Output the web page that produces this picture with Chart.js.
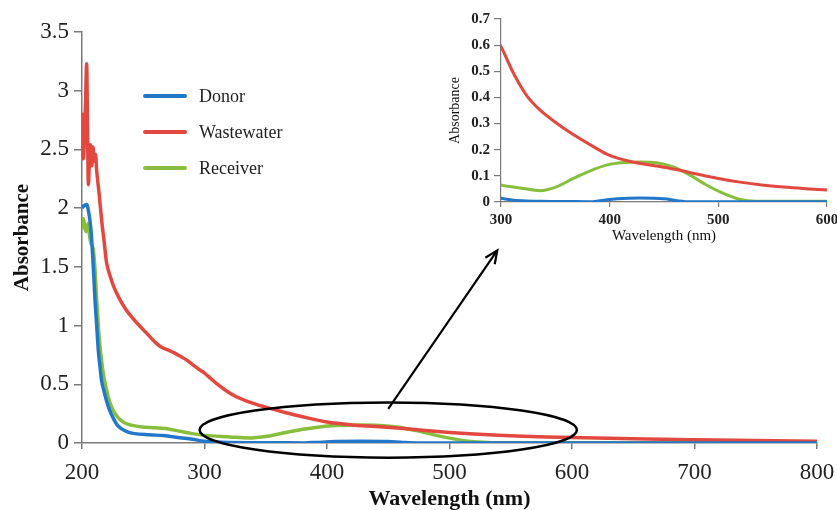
<!DOCTYPE html>
<html>
<head>
<meta charset="utf-8">
<script src="https://cdn.jsdelivr.net/npm/chart.js@4"></script>
<style>
  body { margin: 0; background: #fff; }
  #wrap { position: relative; width: 837px; height: 510px; }
  #mainChart { position: absolute; left: 0; top: 0; }
  #insetChart { position: absolute; left: 430px; top: 0; }
</style>
</head>
<body>
<div id="wrap">
  <canvas id="mainChart" width="837" height="510"></canvas>
  <canvas id="insetChart" width="407" height="260"></canvas>
</div>
<script>
// UV-vis spectra: wavelength (nm) and absorbance per sample
const donorNm = [200, 201.5, 203.8, 205.7, 207, 208, 209.5, 210.6, 212, 213.3, 215, 216, 218, 220, 222.5, 225.6, 229, 232.4, 237, 243, 255, 268, 280, 290, 300, 310, 320, 336, 360, 382, 391, 407, 428, 450, 462, 474, 600, 800];
const donorAbs = [2.0, 2.02, 2.03, 1.95, 1.85, 1.72, 1.45, 1.22, 1.0, 0.79, 0.62, 0.53, 0.44, 0.36, 0.28, 0.21, 0.15, 0.12, 0.095, 0.08, 0.07, 0.062, 0.045, 0.032, 0.015, 0.008, 0.005, 0.003, 0.002, 0.001, 0.005, 0.012, 0.015, 0.012, 0.005, 0.001, 0.001, 0];

const wasteNm = [200, 200.5, 201.2, 202, 203, 203.8, 204.5, 205.2, 206, 207, 208, 209, 210, 211, 212, 214, 216, 218, 220, 223, 226, 230, 235, 240, 245, 250, 255, 260, 265, 270, 275, 280, 285, 290, 295, 300, 305, 310, 316, 324, 335, 350, 365, 385, 400, 420, 440, 460, 480, 500, 520, 540, 560, 580, 600, 650, 700, 750, 800];
const wasteAbs = [2.45, 2.8, 2.42, 2.6, 2.95, 3.23, 2.7, 2.2, 2.38, 2.54, 2.36, 2.52, 2.4, 2.46, 2.32, 2.12, 1.9, 1.72, 1.54, 1.42, 1.33, 1.24, 1.15, 1.08, 1.02, 0.965, 0.91, 0.855, 0.815, 0.793, 0.77, 0.74, 0.71, 0.67, 0.63, 0.595, 0.55, 0.505, 0.458, 0.405, 0.355, 0.305, 0.262, 0.212, 0.178, 0.154, 0.14, 0.125, 0.107, 0.09, 0.076, 0.065, 0.057, 0.051, 0.046, 0.036, 0.028, 0.021, 0.015];

const receiverNm = [200, 201.1, 202.2, 203.3, 205, 206, 207, 209.3, 210.5, 212, 213.3, 214.7, 216, 217.4, 219.5, 221.5, 224, 227, 231, 235, 241, 249, 260, 268, 280, 290, 300, 320.6, 336, 351, 366.6, 382, 397, 412.5, 428, 443, 458.5, 474, 489, 504.6, 520, 535, 600, 700, 800];
const receiverAbs = [1.82, 1.91, 1.85, 1.8, 1.87, 1.78, 1.71, 1.64, 1.5, 1.22, 1.0, 0.82, 0.7, 0.59, 0.48, 0.39, 0.31, 0.25, 0.2, 0.17, 0.15, 0.137, 0.13, 0.123, 0.1, 0.08, 0.065, 0.052, 0.043, 0.058, 0.09, 0.119, 0.141, 0.151, 0.153, 0.15, 0.134, 0.103, 0.065, 0.033, 0.01, 0.003, 0.003, 0.002, 0.001];

const seriesNames = ['Donor', 'Wastewater', 'Receiver'];

// axis ticks
const mainXTicks = [200, 300, 400, 500, 600, 700, 800];
const mainYTicks = [0, 0.5, 1, 1.5, 2, 2.5, 3, 3.5];
const insetXTicks = [300, 400, 500, 600];
const insetYTicks = [0, 0.1, 0.2, 0.3, 0.4, 0.5, 0.6, 0.7];

const colors = ['#2277c8', '#e2483f', '#87be3e'];
const serif = '"Liberation Serif", "Times New Roman", serif';

function toPoints(xs, ys) {
    return xs.map((x, i) => ({ x: x, y: ys[i] }));
}

function makeDatasets(width) {
    const sets = [[donorNm, donorAbs], [wasteNm, wasteAbs], [receiverNm, receiverAbs]];
    return sets.map((s, i) => ({
        label: seriesNames[i],
        data: toPoints(s[0], s[1]),
        borderColor: colors[i],
        backgroundColor: colors[i],
        borderWidth: width,
        pointRadius: 0,
        cubicInterpolationMode: 'monotone',
        fill: false
    }));
}

// legend drawn inside the plot area
const lineLegend = {
    id: 'lineLegend',
    afterDraw(chart, args, opts) {
        const ctx = chart.ctx;
        ctx.save();
        ctx.font = opts.font;
        ctx.textBaseline = 'middle';
        ctx.lineCap = 'round';
        chart.data.datasets.forEach((ds, i) => {
            const y = opts.y + i * opts.gap;
            ctx.strokeStyle = ds.borderColor;
            ctx.lineWidth = 4;
            ctx.beginPath();
            ctx.moveTo(opts.x, y);
            ctx.lineTo(opts.x + opts.len, y);
            ctx.stroke();
            ctx.fillStyle = '#222';
            ctx.fillText(ds.label, opts.textX, y + 1);
        });
        ctx.restore();
    }
};

// ellipse round the visible-region band plus the arrow up to the zoomed view
const callout = {
    id: 'callout',
    afterDatasetsDraw(chart, args, opts) {
        const xs = chart.scales.x, ys = chart.scales.y;
        const ctx = chart.ctx;
        const cx = xs.getPixelForValue(opts.ellipse.x);
        const cy = ys.getPixelForValue(opts.ellipse.y);
        const rx = xs.getPixelForValue(opts.ellipse.x + opts.ellipse.rx) - cx;
        const ry = cy - ys.getPixelForValue(opts.ellipse.y + opts.ellipse.ry);
        ctx.save();
        ctx.strokeStyle = '#000';
        ctx.lineWidth = 2.5;
        ctx.beginPath();
        ctx.ellipse(cx, cy, rx, ry, 0, 0, Math.PI * 2);
        ctx.stroke();

        const x1 = xs.getPixelForValue(opts.arrow.from[0]);
        const y1 = ys.getPixelForValue(opts.arrow.from[1]);
        const x2 = xs.getPixelForValue(opts.arrow.to[0]);
        const y2 = ys.getPixelForValue(opts.arrow.to[1]);
        ctx.lineWidth = 2.2;
        ctx.beginPath();
        ctx.moveTo(x1, y1);
        ctx.lineTo(x2, y2);
        ctx.stroke();
        const ang = Math.atan2(y2 - y1, x2 - x1);
        const head = 14;
        ctx.beginPath();
        ctx.moveTo(x2 - head * Math.cos(ang - 0.42), y2 - head * Math.sin(ang - 0.42));
        ctx.lineTo(x2, y2);
        ctx.lineTo(x2 - head * Math.cos(ang + 0.42), y2 - head * Math.sin(ang + 0.42));
        ctx.stroke();
        ctx.restore();
    }
};

function axis(min, max, ticks, o) {
    return {
        type: 'linear',
        min: min,
        max: max,
        afterBuildTicks: s => { s.ticks = ticks.map(v => ({ value: v })); },
        afterFit: s => {
            if (o.width) s.width = o.width;
            if (o.height) s.height = o.height;
            // edge labels may hang past the plot; layout padding already leaves room
            s.paddingLeft = 0;
            s.paddingRight = 0;
        },
        border: { display: true, color: '#7a7a7a', width: o.borderWidth },
        grid: { drawOnChartArea: false, drawTicks: true, tickLength: o.tickLength, color: '#7a7a7a', lineWidth: o.borderWidth },
        ticks: {
            color: '#222',
            padding: o.tickPad,
            maxRotation: 0,
            autoSkip: false,
            font: { family: serif, size: o.tickSize, weight: o.tickWeight || 'normal' },
            callback: v => String(v)
        },
        title: {
            display: true,
            text: o.title,
            color: '#111',
            padding: o.titlePad,
            font: { family: serif, size: o.titleSize, weight: o.titleWeight || 'normal', lineHeight: 1 }
        }
    };
}

new Chart(document.getElementById('mainChart'), {
    type: 'line',
    data: { datasets: makeDatasets(3.5) },
    options: {
        responsive: false,
        animation: false,
        devicePixelRatio: 1,
        layout: { padding: { left: 0, right: 20, top: 32, bottom: 0 } },
        scales: {
            x: axis(200, 800, mainXTicks, {
                height: 67, tickLength: 6, tickPad: 10, tickSize: 23, borderWidth: 1.5,
                title: 'Wavelength (nm)', titleSize: 22, titleWeight: 'bold', titlePad: { top: 0, bottom: 0 }
            }),
            y: axis(0, 3.5, mainYTicks, {
                width: 82, tickLength: 8, tickPad: 5, tickSize: 23, borderWidth: 1.5,
                title: 'Absorbance', titleSize: 21, titleWeight: 'bold', titlePad: { top: 12, bottom: 0 }
            })
        },
        plugins: {
            legend: { display: false },
            tooltip: { enabled: false },
            lineLegend: { x: 145, y: 96, gap: 36, len: 40, textX: 199, font: '18px ' + serif },
            callout: {
                ellipse: { x: 450, y: 0.11, rx: 154, ry: 0.235 },
                arrow: { from: [450, 0.29], to: [539, 1.64] }
            }
        }
    },
    plugins: [lineLegend, callout]
});

new Chart(document.getElementById('insetChart'), {
    type: 'line',
    data: { datasets: makeDatasets(3) },
    options: {
        responsive: false,
        animation: false,
        devicePixelRatio: 1,
        layout: { padding: { left: 0, right: 10, top: 19, bottom: 0 } },
        scales: {
            x: axis(300, 600, insetXTicks, {
                height: 58, tickLength: 5, tickPad: 4, tickSize: 15, tickWeight: 'bold', borderWidth: 1.2,
                title: 'Wavelength (nm)', titleSize: 15, titlePad: { top: 0, bottom: 16 }
            }),
            y: axis(0, 0.7, insetYTicks, {
                width: 71, tickLength: 7, tickPad: 4, tickSize: 15, tickWeight: 'bold', borderWidth: 1.2,
                title: 'Absorbance', titleSize: 14, titlePad: { top: 18, bottom: 0 }
            })
        },
        plugins: {
            legend: { display: false },
            tooltip: { enabled: false }
        }
    }
});
</script>
</body>
</html>
